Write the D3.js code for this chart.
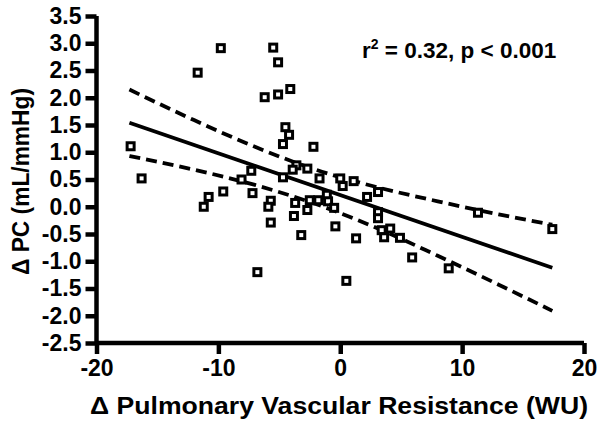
<!DOCTYPE html>
<html><head><meta charset="utf-8">
<script src="https://cdnjs.cloudflare.com/ajax/libs/d3/7.8.5/d3.min.js"></script>
<style>
html,body{margin:0;padding:0;background:#fff;}
text{font-family:"Liberation Sans",Arial,Helvetica,sans-serif;font-weight:bold;fill:#000;}
</style></head>
<body><svg id="c" width="602" height="430"></svg>
<script>
// Data
const xValues = [-17.2,-16.3,-11.7,-9.8,-5.5,-5.1,-6.2,-5.1,-4.1,-4.5,-4.2,-4.7,-2.2,-3.6,-3.9,-2.7,-1.7,0.0,0.2,1.1,2.2,3.1,-7.3,-8.1,-9.6,-10.8,-11.2,-7.2,-5.7,-5.9,-5.7,-4.7,-3.7,-3.8,-2.5,-2.7,-1.8,-1.1,-1.0,-0.5,-3.2,-0.4,3.1,3.1,3.4,4.1,3.6,4.9,1.3,5.9,8.9,-6.8,0.5,11.3,17.4];
const yValues = [1.11,0.52,2.46,2.91,2.92,2.65,2.01,2.06,2.16,1.46,1.32,1.15,1.10,0.76,0.68,0.70,0.52,0.52,0.38,0.47,0.18,0.27,0.66,0.50,0.28,0.18,0.00,0.25,0.11,0.00,-0.29,0.54,0.07,-0.17,0.12,-0.06,0.12,0.22,0.10,-0.02,-0.52,-0.36,-0.10,-0.21,-0.43,-0.40,-0.56,-0.57,-0.58,-0.93,-1.13,-1.20,-1.36,-0.11,-0.41];
const fitX = [-17.3, 17.4];
const fitY = [1.54, -1.12];
const bandX = [-17.3,-12,-7,-2,3,8,13,17.4];
const bandUpper = [2.15,1.59,1.10,0.68,0.36,0.10,-0.14,-0.33];
const bandLower = [0.93,0.68,0.40,0.05,-0.39,-0.90,-1.43,-1.91];
const xTickValues = [-20,-10,0,10,20];
const xTickLabels = ["-20","-10","0","10","20"];
const yTickValues = [3.5,3.0,2.5,2.0,1.5,1.0,0.5,0.0,-0.5,-1.0,-1.5,-2.0,-2.5];
const yTickLabels = ["3.5","3.0","2.5","2.0","1.5","1.0","0.5","0.0","-0.5","-1.0","-1.5","-2.0","-2.5"];
const xTitle = "\u0394 Pulmonary Vascular Resistance (WU)";
const yTitle = "\u0394 PC (mL/mmHg)";

const svg = d3.select("#c");
const x = d3.scaleLinear().domain([-20,20]).range([96.5,584]);
const y = d3.scaleLinear().domain([-2.5,3.5]).range([343,16]);

// axes
const xAxis = d3.axisBottom(x).tickValues(xTickValues).tickSize(11).tickPadding(6)
  .tickFormat((d,i)=>xTickLabels[i]);
const yAxis = d3.axisLeft(y).tickValues(yTickValues).tickSize(11).tickPadding(4)
  .tickFormat((d,i)=>yTickLabels[i]);

const gx = svg.append("g").attr("transform","translate(0,343)").call(xAxis);
const gy = svg.append("g").attr("transform","translate(96.5,0)").call(yAxis);
[gx,gy].forEach(g=>{
  g.select(".domain").attr("stroke","#000").attr("stroke-width",4.5);
  g.selectAll(".tick line").attr("stroke","#000").attr("stroke-width",4.5);
  g.selectAll(".tick text").attr("font-size",23).attr("font-family",null).attr("fill","#000");
});
gx.select(".domain").attr("d","M"+x(-20)+",0H"+x(20));
gy.select(".domain").attr("d","M0,"+y(3.5)+"V"+y(-2.5));

// fit + confidence band
const line = d3.line().x(d=>x(d[0])).y(d=>y(d[1]));
const curve = d3.line().x(d=>x(d[0])).y(d=>y(d[1])).curve(d3.curveMonotoneX);
svg.append("path").attr("d",curve(bandX.map((v,i)=>[v,bandUpper[i]])))
  .attr("fill","none").attr("stroke","#000").attr("stroke-width",3.8).attr("stroke-dasharray","11,6");
svg.append("path").attr("d",curve(bandX.map((v,i)=>[v,bandLower[i]])))
  .attr("fill","none").attr("stroke","#000").attr("stroke-width",3.8).attr("stroke-dasharray","11,6");
svg.append("path").attr("d",line(fitX.map((v,i)=>[v,fitY[i]])))
  .attr("fill","none").attr("stroke","#000").attr("stroke-width",3.8);

// points
svg.append("g").selectAll("rect").data(xValues.map((v,i)=>[v,yValues[i]])).join("rect")
  .attr("x",d=>x(d[0])-3.5).attr("y",d=>y(d[1])-3.5).attr("width",7).attr("height",7)
  .attr("fill","#fff").attr("stroke","#000").attr("stroke-width",3);

// titles
svg.append("text").attr("x",90).attr("y",414).attr("font-size",23)
  .attr("textLength",498).attr("lengthAdjust","spacingAndGlyphs").text(xTitle);
svg.append("text").attr("transform","translate(29,275) rotate(-90)").attr("font-size",23)
  .attr("textLength",187).attr("lengthAdjust","spacingAndGlyphs").text(yTitle);

// annotation
const ann = svg.append("text").attr("x",362).attr("y",58).attr("font-size",22.5);
ann.append("tspan").text("r");
ann.append("tspan").attr("dy",-9).attr("font-size",14).text("2");
ann.append("tspan").attr("dy",9).text(" = 0.32, p < 0.001");
</script></body></html>
